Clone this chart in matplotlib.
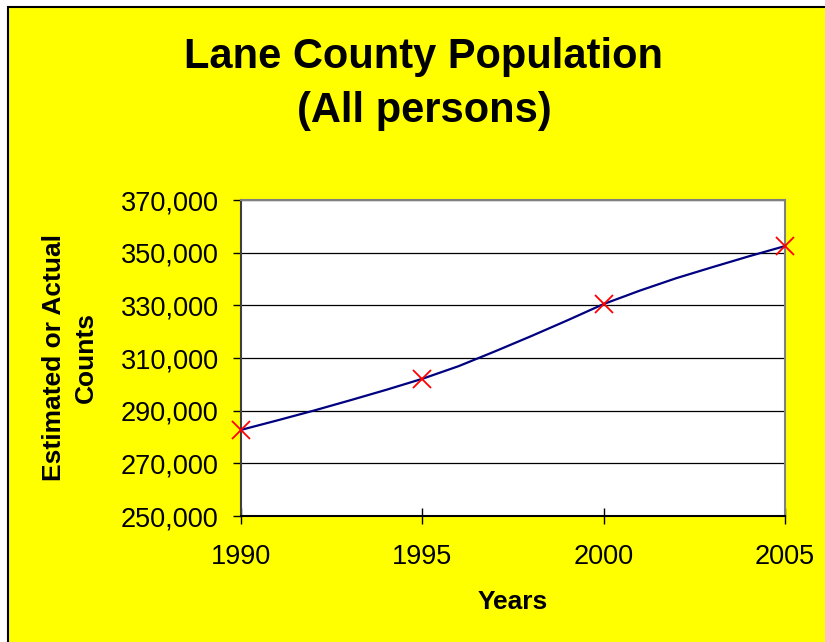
import matplotlib
matplotlib.use("Agg")
import matplotlib.pyplot as plt
from matplotlib.patches import Rectangle
from matplotlib.ticker import FuncFormatter

plt.rcParams['font.family'] = ['Liberation Sans', 'DejaVu Sans']

# yearly estimates
years = [1990, 1991, 1992, 1993, 1994, 1995, 1996, 1997,
         1998, 1999, 2000, 2001, 2002, 2003, 2004, 2005]
counts = [282700, 286300, 290000, 293900, 297900, 302100, 306900, 312500,
          318300, 324300, 330500, 335600, 340300, 344500, 348600, 352500]
xticks = [1990, 1995, 2000, 2005]
yticks = [250000, 270000, 290000, 310000, 330000, 350000, 370000]

W, H = 825, 642
fig = plt.figure(figsize=(W / 100, H / 100), dpi=100, facecolor='white')

# yellow chart area with black border
bg = Rectangle((8 / W, -0.01), 1.02 - 8 / W, 1 - 7 / H + 0.01,
               transform=fig.transFigure, facecolor='#FFFF00',
               edgecolor='black', linewidth=1.5, zorder=-10)
fig.patches.append(bg)

ax = fig.add_axes([241 / W, 1 - 516 / H, (785 - 241) / W, (516 - 200) / H])
ax.set_zorder(1)
ax.set_facecolor('white')

ax.plot(years, counts, color='#000080', linewidth=1.6, zorder=3,
        marker='x', markevery=5, markersize=13, markeredgewidth=1.3,
        markeredgecolor='#FF0000', clip_on=False)

ax.set_xlim(1990, 2005)
ax.set_ylim(250000, 370000)
ax.set_xticks(xticks)
ax.set_yticks(yticks)
ax.yaxis.set_major_formatter(FuncFormatter(lambda v, p: f"{int(v):,}"))
ax.grid(axis='y', color='black', linewidth=0.9, zorder=1)
ax.set_axisbelow(True)

ax.tick_params(axis='y', direction='out', length=6, width=1, pad=10,
               labelsize=19.5, colors='black')
ax.tick_params(axis='x', direction='inout', length=12, width=1, pad=14,
               labelsize=19.5, colors='black')

ax.spines['left'].set_color('#404040')
ax.spines['bottom'].set_color('black')
ax.spines['top'].set_color('#808080')
ax.spines['right'].set_color('#808080')
for s in ax.spines.values():
    s.set_linewidth(1.5)

fig.text(424 / W, 1 - 84 / H, "Lane County Population\n(All persons)",
         ha='center', va='center', fontsize=30, fontweight='bold',
         linespacing=1.45)
fig.text(513 / W, 1 - 602 / H, "Years", ha='center', va='center',
         fontsize=19, fontweight='bold')
fig.text(70 / W, 1 - 358 / H, "Estimated or Actual\nCounts", ha='center',
         va='center', rotation=90, fontsize=19, fontweight='bold',
         multialignment='center', linespacing=1.4)

fig.savefig("out.png", dpi=100, facecolor=fig.get_facecolor())
